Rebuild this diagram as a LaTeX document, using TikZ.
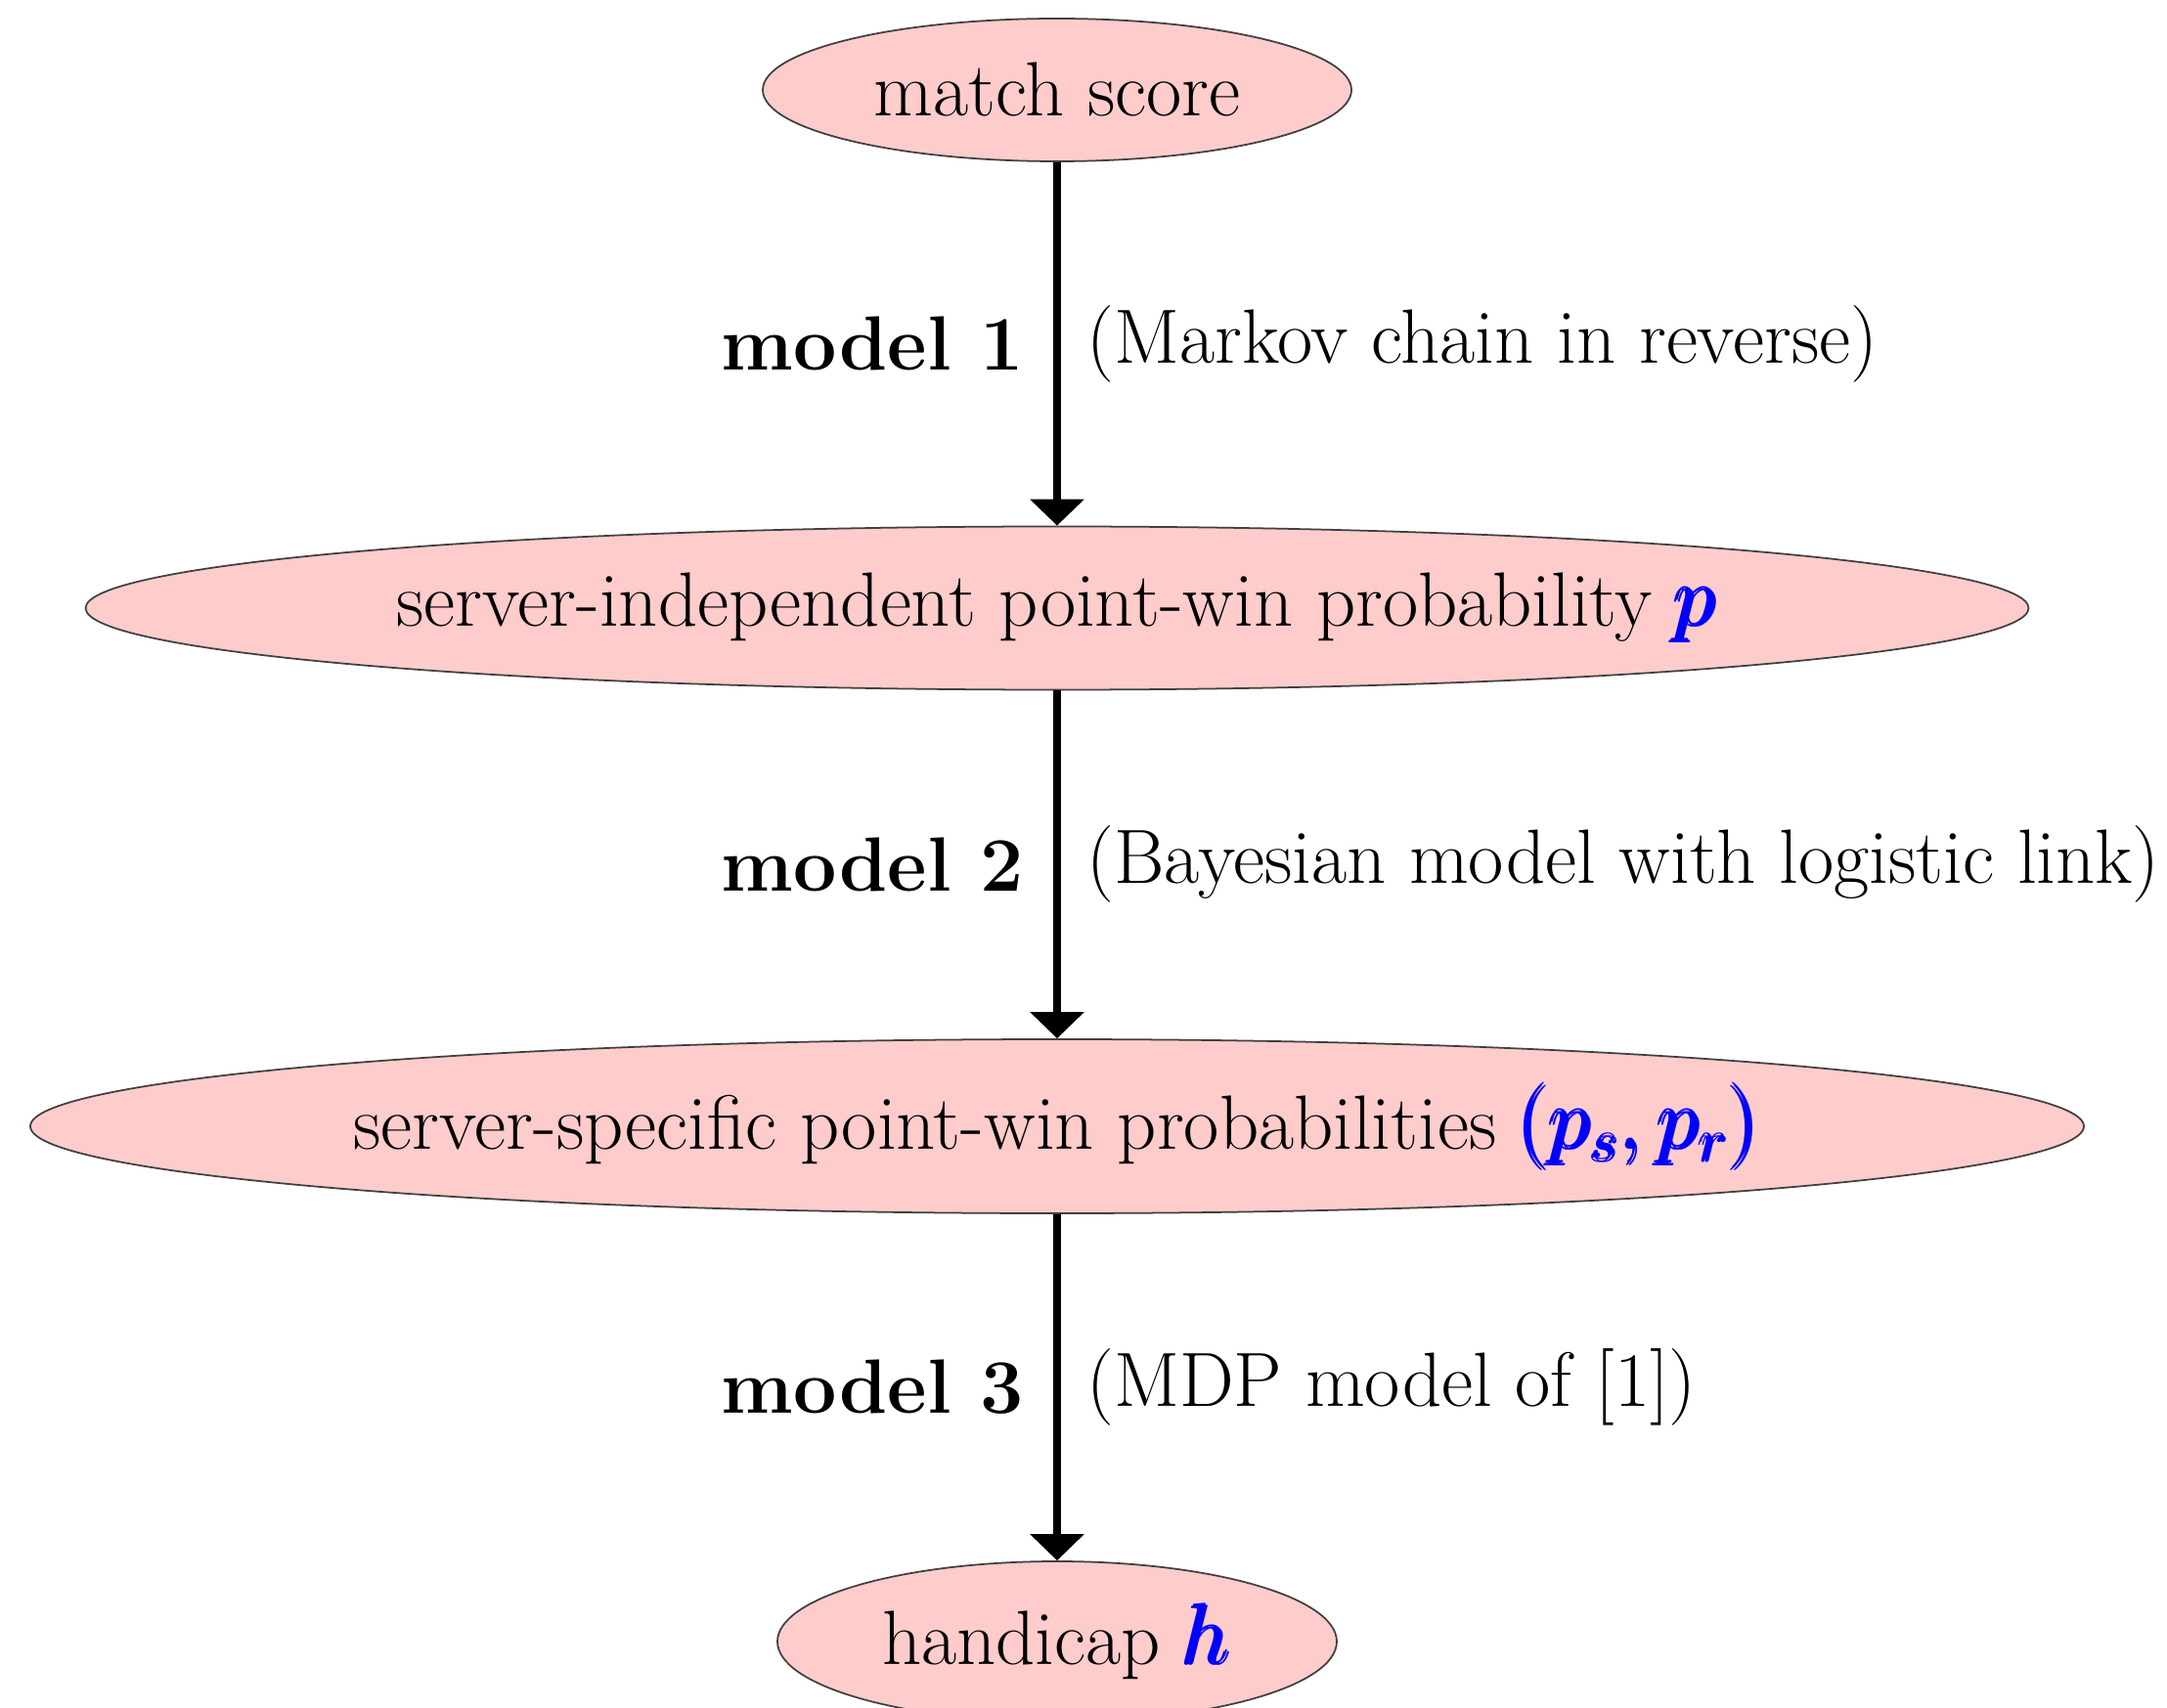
\documentclass[tikz,border=0pt]{standalone}
\usepackage{amsmath}
\usetikzlibrary{shapes.geometric,arrows.meta}
\newcommand{\bluemath}[1]{{\fontsize{24.9}{30}\selectfont\textcolor{blue}{$\pmb{#1}$}}}
\begin{document}
\begin{tikzpicture}[x=1cm,y=1cm,
  blob/.style={ellipse, draw=black!75, line width=0.5pt, fill=red!20, inner sep=0pt},
  flow/.style={line width=2pt, -{Triangle[width=0.54cm,length=0.27cm]}},
  txt/.style={font=\fontsize{22.4}{27}\selectfont},
  lbl/.style={txt, midway, anchor=east, inner sep=0pt, xshift=-0.31cm, font=\fontsize{22.4}{27}\selectfont\bfseries},
  desc/.style={txt, midway, anchor=west, inner sep=0pt, xshift=0.27cm}]
\useasboundingbox (0,0) rectangle (22.16,-17.47);
\node[blob, txt, minimum width=6.02cm, minimum height=1.46cm] (ms) at (10.81,-0.92) {\makebox[0pt]{match score}};
\node[blob, txt, minimum width=19.87cm, minimum height=1.67cm] (p) at (10.81,-6.22) {\makebox[0pt]{server-independent point-win probability \bluemath{p}}};
\node[blob, txt, minimum width=21.0cm, minimum height=1.78cm] (ps) at (10.81,-11.52) {\makebox[0pt]{server-specific point-win probabilities \bluemath{(p_s,p_r)}}};
\node[blob, txt, minimum width=5.72cm, minimum height=1.64cm] (h) at (10.81,-16.79) {\makebox[0pt]{handicap \bluemath{h}}};
\draw[flow] (ms) -- node[lbl, name=m1]{model 1} node[desc, name=d1]{(Markov chain in reverse)} (p);
\draw[flow] (p) -- node[lbl, name=m2]{model 2} node[desc, name=d2]{(Bayesian model with logistic link)} (ps);
\draw[flow] (ps) -- node[lbl, name=m3]{model 3} node[desc, name=d3]{(MDP model of [1])} (h);
\end{tikzpicture}
\end{document}
